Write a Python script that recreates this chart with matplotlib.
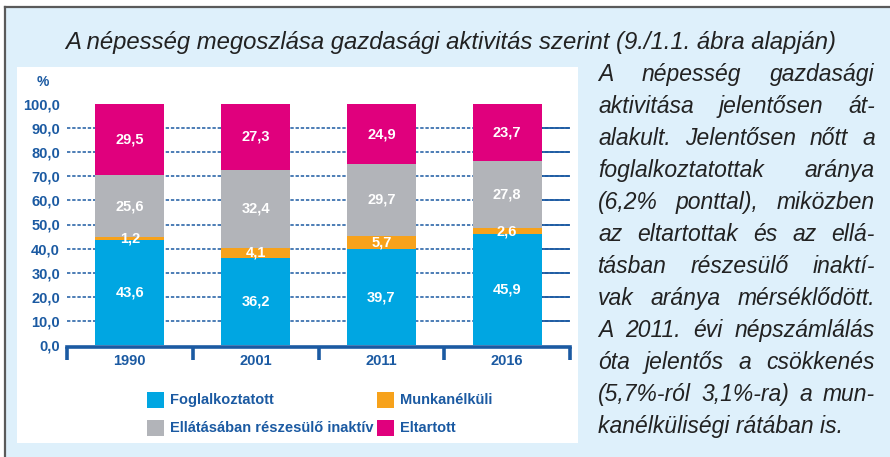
import matplotlib
matplotlib.use("Agg")
import matplotlib.pyplot as plt
from matplotlib.patches import Rectangle
from matplotlib.lines import Line2D
import numpy as np

# ---------------- data ----------------
years = ['1990', '2001', '2011', '2016']
foglalkoztatott = [43.6, 36.2, 39.7, 45.9]
munkanelkuli = [1.2, 4.1, 5.7, 2.6]
ellatas = [25.6, 32.4, 29.7, 27.8]
eltartott = [29.5, 27.3, 24.9, 23.7]
series_names = ['Foglalkoztatott', 'Munkanélküli',
                'Ellátásában részesülő inaktív', 'Eltartott']
yticks = [0, 10, 20, 30, 40, 50, 60, 70, 80, 90, 100]

title = 'A népesség megoszlása gazdasági aktivitás szerint (9./1.1. ábra alapján)'
body_lines = [
    'A népesség gazdasági',
    'aktivitása jelentősen át-',
    'alakult. Jelentősen nőtt a',
    'foglalkoztatottak aránya',
    '(6,2% ponttal), miközben',
    'az eltartottak és az ellá-',
    'tásban részesülő inaktí-',
    'vak aránya mérséklődött.',
    'A 2011. évi népszámlálás',
    'óta jelentős a csökkenés',
    '(5,7%-ról 3,1%-ra) a mun-',
    'kanélküliségi rátában is.',
]

# ---------------- styles ----------------
C_BLUE = '#00a6e2'
C_ORANGE = '#f7a21b'
C_GRAY = '#b2b4b9'
C_MAGENTA = '#e0007d'
C_DARK = '#1b5aa2'
C_BG = '#def0fb'
colors = [C_BLUE, C_ORANGE, C_GRAY, C_MAGENTA]

COND = ['Liberation Sans Narrow', 'DejaVu Sans Condensed', 'Liberation Sans']
ITAL = ['Liberation Sans', 'DejaVu Sans']

W, H = 890, 457
fig = plt.figure(figsize=(W / 100, H / 100), dpi=100)
fig.patch.set_facecolor(C_BG)


def fx(px):
    return px / W


def fy(py):
    return 1 - py / H


# outer frame: white margin, gray border
fig.add_artist(Rectangle((0, fy(7)), 1, 7 / H, transform=fig.transFigure,
                         facecolor='white', edgecolor='none', zorder=0))
fig.add_artist(Rectangle((0, 0), 4 / W, 1, transform=fig.transFigure,
                         facecolor='white', edgecolor='none', zorder=0))
fig.add_artist(Line2D([fx(4.5), 1], [fy(7), fy(7)], transform=fig.transFigure,
                      color='#5a5a5a', lw=1.6, zorder=1))
fig.add_artist(Line2D([fx(4.5), fx(4.5)], [0, fy(7)], transform=fig.transFigure,
                      color='#5a5a5a', lw=1.6, zorder=1))
# white chart panel
fig.add_artist(Rectangle((fx(17), fy(443)), (578 - 17) / W, (443 - 67) / H,
                         transform=fig.transFigure, facecolor='white',
                         edgecolor='none', zorder=0.5))

# ---------------- title ----------------
fig.text(fx(451), fy(49), title, ha='center', va='baseline', fontsize=17.2,
         style='italic', family=ITAL, color='#222222')

# ---------------- chart ----------------
ax = fig.add_axes([fx(67), fy(345), (570 - 67) / W, (345 - 104) / H])
ax.set_zorder(3)
ax.set_facecolor('none')
x = np.arange(len(years))
bw = 0.55
bottom = np.zeros(len(years))
for vals, col in zip([foglalkoztatott, munkanelkuli, ellatas, eltartott], colors):
    vals = np.array(vals)
    ax.bar(x, vals, bw, bottom=bottom, color=col, zorder=3, linewidth=0)
    for xi, v, b in zip(x, vals, bottom):
        ax.text(xi, b + v / 2, f'{v:.1f}'.replace('.', ','), ha='center',
                va='center', color='white', fontsize=10.5, fontweight='bold',
                family=COND, zorder=4)
    bottom = bottom + vals

ax.set_xlim(-0.5, len(years) - 0.5)
ax.set_ylim(0, 100)

# gridlines: dotted between bars, solid after the last bar
for t in yticks[1:-1]:
    ax.axhline(t, color=C_DARK, lw=1.1, linestyle=(0, (2.2, 1.2)), zorder=1)
    ax.plot([len(years) - 1 + bw / 2, len(years) - 0.5], [t, t], color=C_DARK,
            lw=1.3, solid_capstyle='butt', zorder=2)

for s in ['top', 'right', 'left']:
    ax.spines[s].set_visible(False)
ax.spines['bottom'].set_color(C_DARK)
ax.spines['bottom'].set_linewidth(2.6)
ax.spines['bottom'].set_position(('outward', 1.5))
ax.spines['bottom'].set_zorder(5)

ax.set_yticks(yticks)
ax.set_yticklabels([f'{v:.1f}'.replace('.', ',') for v in yticks])
ax.tick_params(axis='y', length=0, pad=5, labelsize=10.5, labelcolor=C_DARK)
for lab in ax.get_yticklabels():
    lab.set_fontweight('bold')
    lab.set_family(COND)

ax.set_xticks(np.arange(len(years) + 1) - 0.5)
ax.set_xticklabels([])
ax.tick_params(axis='x', which='major', direction='out', length=9.5,
               width=2.6, color=C_DARK)
ax.set_xticks(x, minor=True)
ax.set_xticklabels(years, minor=True)
ax.tick_params(axis='x', which='minor', length=0, pad=5, labelsize=10.5,
               labelcolor=C_DARK)
for lab in ax.get_xticklabels(minor=True):
    lab.set_fontweight('bold')
    lab.set_family(COND)

fig.text(fx(43), fy(82), '%', ha='center', va='center', fontsize=10,
         fontweight='bold', family=COND, color=C_DARK, zorder=4)

# ---------------- legend ----------------
leg_pos = [(147, 400), (377, 400), (147, 428), (377, 428)]
for (px, py), name, col in zip(leg_pos, series_names, colors):
    fig.add_artist(Rectangle((fx(px), fy(py + 8)), 17 / W, 16 / H,
                             transform=fig.transFigure, facecolor=col,
                             edgecolor='none', zorder=2))
    fig.text(fx(px + 23), fy(py), name, ha='left', va='center', fontsize=10.5,
             family=COND, fontweight='bold', color=C_DARK, zorder=4)

# ---------------- justified body text ----------------
renderer = fig.canvas.get_renderer()
BODY_KW = dict(fontsize=16.5, style='italic', family=ITAL, color='#222222')
X0, X1 = 598, 875
for i, line in enumerate(body_lines):
    yb = fy(81 + 32 * i)
    words = line.split(' ')
    if i == len(body_lines) - 1 or len(words) == 1:
        fig.text(fx(X0), yb, line, ha='left', va='baseline', **BODY_KW)
        continue
    arts = [fig.text(0, yb, w, ha='left', va='baseline', **BODY_KW) for w in words]
    widths = [a.get_window_extent(renderer).width for a in arts]
    gap = (X1 - X0 - sum(widths)) / (len(words) - 1)
    cur = X0
    for a, wd in zip(arts, widths):
        a.set_x(fx(cur))
        cur += wd + gap

fig.savefig('out.png', dpi=100, facecolor=fig.get_facecolor())
